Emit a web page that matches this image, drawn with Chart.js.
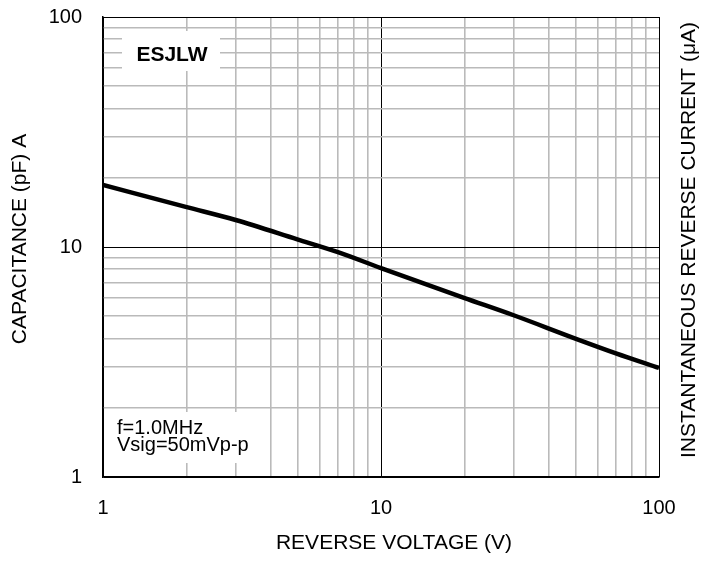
<!DOCTYPE html>
<html>
<head>
<meta charset="utf-8">
<script src="https://cdn.jsdelivr.net/npm/chart.js@4.4.1/dist/chart.umd.min.js"></script>
<style>
  html, body { margin: 0; padding: 0; background: #fff; }
  #wrap { width: 702px; height: 562px; position: relative; }
</style>
</head>
<body>
<div id="wrap"><canvas id="c" width="702" height="562"></canvas></div>
<script>
// ---- data ----
const reverseVoltage = [1, 2, 3, 5, 7, 10, 20, 30, 50, 70, 100];
const capacitance   = [18.6, 14.9, 13.1, 10.8, 9.5, 8.1, 6.0, 5.05, 4.0, 3.45, 2.98];
const xTickValues = [1,2,3,4,5,6,7,8,9,10,20,30,40,50,60,70,80,90,100];
const yTickValues = [1,2,3,4,5,6,7,8,9,10,20,30,40,50,60,70,80,90,100];
const majorTicks = [1, 10, 100];
const xTitle = 'REVERSE VOLTAGE (V)';
const yTitle = 'CAPACITANCE (pF) A';
const y2Title = 'INSTANTANEOUS REVERSE CURRENT (\u03bcA)';
const deviceLabel = 'ESJLW';
const condLines = ['f=1.0MHz', 'Vsig=50mVp-p'];

const FONT = "'Liberation Sans', Arial, sans-serif";
Chart.defaults.font.family = FONT;
Chart.defaults.color = '#000';

const isMajor = v => majorTicks.some(m => Math.abs(m - v) < 1e-9);
const gridColor = ctx => (ctx.tick && isMajor(ctx.tick.value)) ? '#000' : '#bababa';
const gridWidth = ctx => (ctx.tick && isMajor(ctx.tick.value)) ? 1 : 1.6;

function drawText(c, txt, x, y, rot, font) {
  c.save();
  c.translate(x, y);
  if (rot) c.rotate(rot);
  c.font = font;
  c.fillStyle = '#000';
  c.textAlign = 'center';
  c.textBaseline = 'middle';
  c.fillText(txt, 0, 0);
  c.restore();
}

const annot = {
  id: 'annot',
  beforeDatasetsDraw(chart) {
    const c = chart.ctx;
    const a = chart.chartArea;
    c.save();
    // device label box
    c.fillStyle = '#fff';
    c.fillRect(122, 31, 98, 40);
    drawText(c, deviceLabel, 172, 55, 0, "bold 21px " + FONT);
    // conditions box
    c.fillStyle = '#fff';
    c.fillRect(a.left + 1, 412, 163, 51);
    c.fillStyle = '#000';
    c.font = "20px " + FONT;
    c.textAlign = 'left';
    c.textBaseline = 'alphabetic';
    c.fillText(condLines[0], 117, 434);
    c.fillText(condLines[1], 117, 451);
    c.restore();
  },
  afterDraw(chart) {
    const c = chart.ctx;
    drawText(c, yTitle, 20, 239, -Math.PI / 2, "21px " + FONT);
    drawText(c, y2Title, 689, 240, -Math.PI / 2, "21px " + FONT);
    drawText(c, xTitle, 394, 543, 0, "21px " + FONT);
  }
};

new Chart(document.getElementById('c'), {
  type: 'line',
  data: {
    datasets: [{
      data: reverseVoltage.map((v, i) => ({ x: v, y: capacitance[i] })),
      borderColor: '#000',
      borderWidth: 4.5,
      pointRadius: 0,
      cubicInterpolationMode: 'monotone',
      fill: false
    }]
  },
  options: {
    responsive: false,
    animation: false,
    devicePixelRatio: 1,
    layout: { padding: { top: 17, left: 0, right: 43, bottom: 0 } },
    plugins: { legend: { display: false }, tooltip: { enabled: false } },
    scales: {
      x: {
        type: 'logarithmic',
        min: 1, max: 100,
        afterBuildTicks: s => { s.ticks = xTickValues.map(v => ({ value: v })); },
        afterFit: s => { s.height = 85; s.paddingLeft = 0; s.paddingRight = 0; },
        grid: { color: gridColor, lineWidth: gridWidth, drawTicks: false },
        border: { display: true, color: '#000', width: 1.5 },
        ticks: {
          autoSkip: false, maxRotation: 0, minRotation: 0, padding: 19,
          font: { size: 20 },
          callback: v => isMajor(v) ? String(v) : ''
        }
      },
      y: {
        type: 'logarithmic',
        min: 1, max: 100,
        afterBuildTicks: s => { s.ticks = yTickValues.map(v => ({ value: v })); },
        afterFit: s => { s.width = 103; s.paddingTop = 0; s.paddingBottom = 0; },
        grid: { color: gridColor, lineWidth: gridWidth, drawTicks: false },
        border: { display: true, color: '#000', width: 1.5 },
        ticks: {
          autoSkip: false, padding: 21,
          font: { size: 20 },
          callback: v => isMajor(v) ? String(v) : ''
        }
      }
    }
  },
  plugins: [annot]
});
</script>
</body>
</html>
